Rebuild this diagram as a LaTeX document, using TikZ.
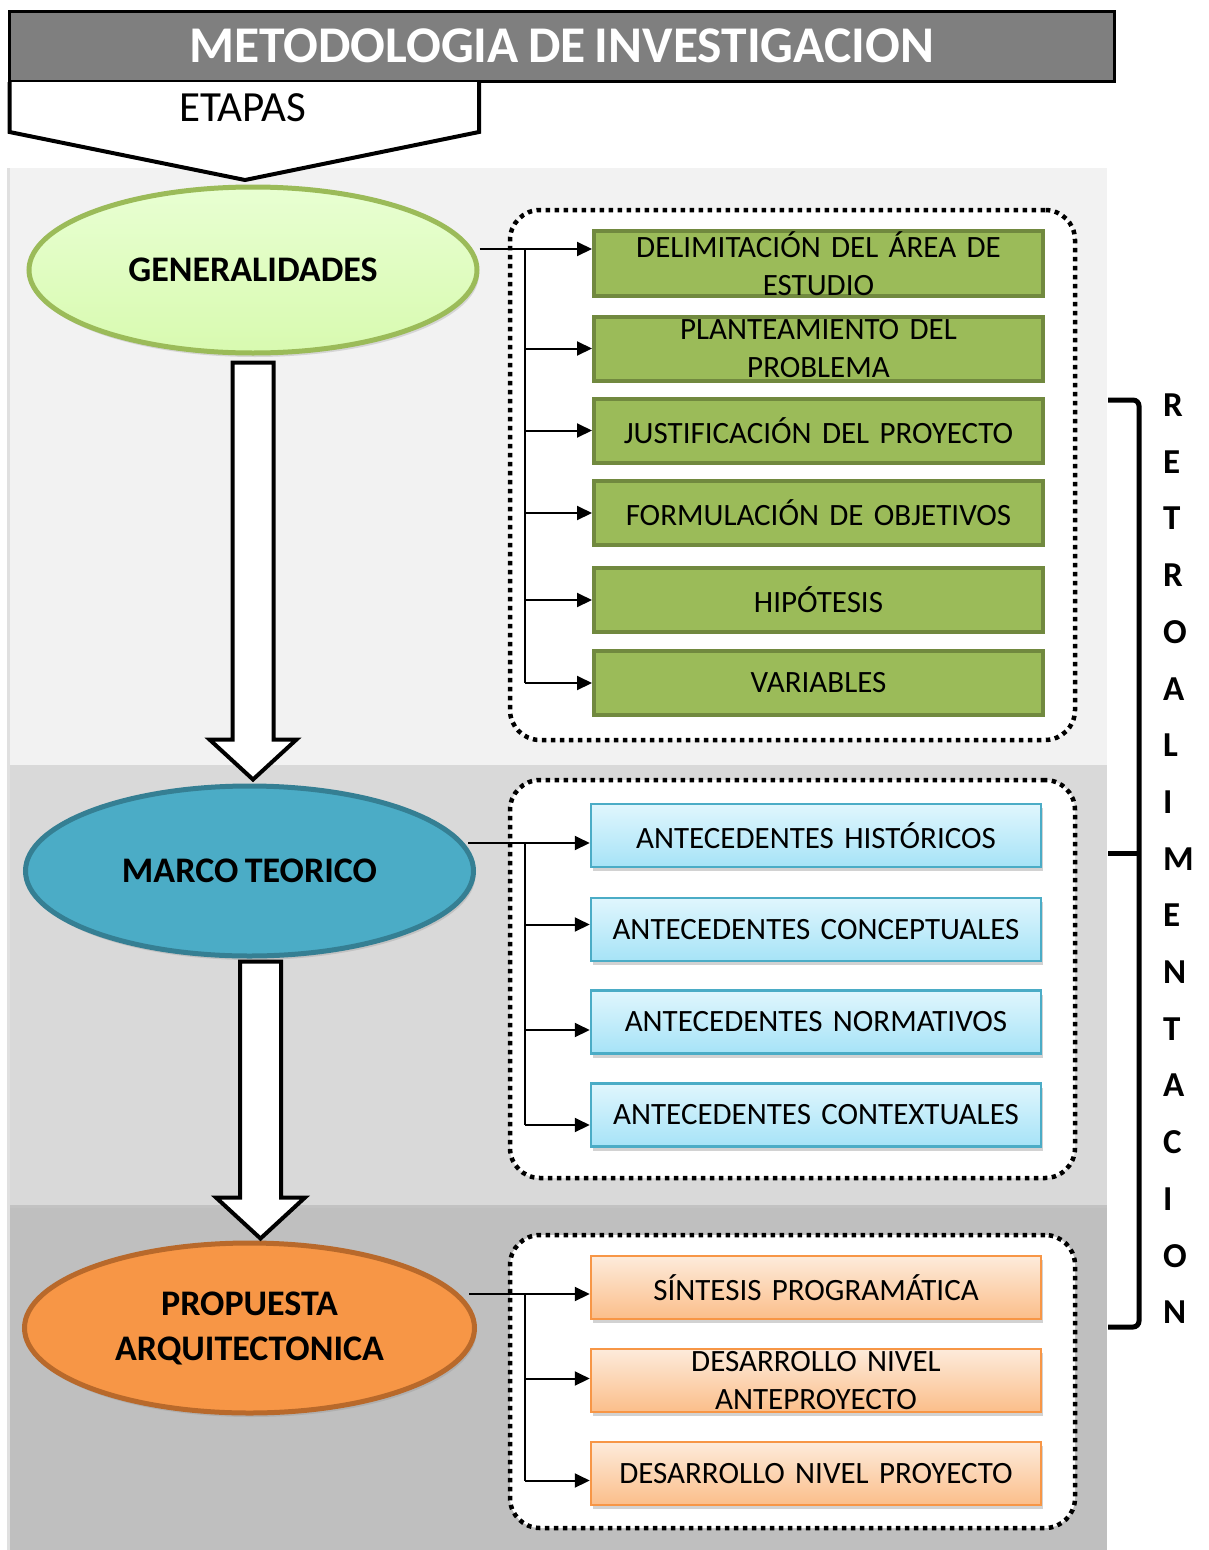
\documentclass[tikz,border=0pt]{standalone}
\usepackage{fontspec}
\setmainfont{Carlito}[WordSpace=0.8]
\usetikzlibrary{arrows.meta,shapes.geometric,shadows,calc}
\definecolor{panelA}{HTML}{F2F2F2}
\definecolor{panelB}{HTML}{D9D9D9}
\definecolor{panelC}{HTML}{BFBFBF}
\definecolor{titlegrey}{HTML}{7F7F7F}
\definecolor{olive}{HTML}{9BBB59}
\definecolor{oliveD}{HTML}{71893F}
\definecolor{paleA}{HTML}{E8FFD2}
\definecolor{paleB}{HTML}{D8FAB0}
\definecolor{teal}{HTML}{4BACC6}
\definecolor{tealD}{HTML}{357F93}
\definecolor{orng}{HTML}{F79646}
\definecolor{orngD}{HTML}{B8692B}
\definecolor{cyanA}{HTML}{E0F6FD}
\definecolor{cyanB}{HTML}{A6E3F7}
\definecolor{peachA}{HTML}{FDEBDB}
\definecolor{peachB}{HTML}{FBBE8A}
\begin{document}
\begin{tikzpicture}[x=1pt,y=-1pt,
  boxtxt/.style={font=\fontsize{31}{38}\selectfont, align=center, text width=446pt, inner sep=0pt},
  gbox/.style={boxtxt, draw=oliveD, line width=4pt, fill=olive, minimum width=449pt, minimum height=64pt},
  bbox/.style={boxtxt, draw=teal, line width=2.5pt, top color=cyanA, bottom color=cyanB, minimum width=450pt, minimum height=63pt,
     drop shadow={opacity=0.35, shadow xshift=2pt, shadow yshift=-4pt}},
  obox/.style={boxtxt, draw=orng, line width=2.5pt, top color=peachA, bottom color=peachB, minimum width=450pt, minimum height=63pt,
     drop shadow={opacity=0.35, shadow xshift=2pt, shadow yshift=-4pt}},
  stage/.style={ellipse, line width=5pt, inner sep=0pt, align=center, font=\fontsize{36}{45}\selectfont\bfseries,
     drop shadow={opacity=0.25, shadow xshift=2pt, shadow yshift=-4pt}},
  dotbox/.style={draw=black, fill=white, line width=4.5pt, dash pattern=on 4.5pt off 4.5pt, rounded corners=30pt},
  conn/.style={draw=black, line width=2pt},
  arr/.style={conn, -{Triangle[length=15pt,width=14pt]}},
  blockarr/.style={draw=black, fill=white, line width=4pt, line join=miter},
  retro/.style={font=\fontsize{35}{35}\selectfont\bfseries, anchor=base west, inner sep=0pt}
]
\useasboundingbox (0,0) rectangle (1209,1550);
\fill[white] (0,0) rectangle (1209,1550);
% panels
\fill[black!12] (7,168) rectangle (1107,1550);
\fill[panelA] (10,168) rectangle (1107,765);
\fill[panelB] (10,765) rectangle (1107,1205);
\fill[black!35, opacity=0.5] (10,1205) rectangle (1107,1209);
\fill[panelC] (10,1208) rectangle (1107,1550);

% title
\node[draw=black, line width=3pt, fill=titlegrey, minimum width=1105pt, minimum height=70pt, inner sep=0pt,
      text=white, font=\fontsize{51.5}{52}\selectfont\bfseries] (title) at (561.5,46) {METODOLOGIA DE INVESTIGACION};
% etapas pentagon
\fill[white] (9.5,82) -- (479,82) -- (479,132) -- (245,180) -- (9.5,132) -- cycle;
\draw[line width=4pt, line join=miter] (9.5,82) -- (9.5,132) -- (245,180) -- (479,132) -- (479,82);
\node[font=\fontsize{43}{43}\selectfont, inner sep=0pt] (etapas) at (243,108) {ETAPAS};

% group containers
\node[dotbox, minimum width=565pt, minimum height=530pt] (grp1) at (792.5,475) {};
\node[dotbox, minimum width=565pt, minimum height=398pt] (grp2) at (792.5,979) {};
\node[dotbox, minimum width=565pt, minimum height=293pt] (grp3) at (792.5,1381.5) {};

% stages
\node[stage, draw=olive, top color=paleA, bottom color=paleB, minimum width=448pt, minimum height=166pt] (gen) at (253,270) {GENERALIDADES};
\node[stage, draw=tealD, fill=teal, minimum width=448pt, minimum height=170pt] (marco) at (249.5,871) {MARCO TEORICO};
\node[stage, draw=orngD, fill=orng, minimum width=450pt, minimum height=170pt] (prop) at (249.5,1328) {PROPUESTA\\ARQUITECTONICA};

% green boxes
\node[gbox] (g1) at (818.5,263.5) {DELIMITACIÓN DEL ÁREA DE\\ESTUDIO};
\node[gbox] (g2) at (818.5,348.5) {PLANTEAMIENTO DEL\\PROBLEMA};
\node[gbox] (g3) at (818.5,430.5) {JUSTIFICACIÓN DEL PROYECTO};
\node[gbox] (g4) at (818.5,513) {FORMULACIÓN DE OBJETIVOS};
\node[gbox] (g5) at (818.5,600) {HIPÓTESIS};
\node[gbox] (g6) at (818.5,683) {VARIABLES};

% blue boxes
\node[bbox] (b1) at (816,835.5) {ANTECEDENTES HISTÓRICOS};
\node[bbox] (b2) at (816,929.5) {ANTECEDENTES CONCEPTUALES};
\node[bbox] (b3) at (816,1022) {ANTECEDENTES NORMATIVOS};
\node[bbox] (b4) at (816,1115) {ANTECEDENTES CONTEXTUALES};

% orange boxes
\node[obox] (o1) at (816,1287.5) {SÍNTESIS PROGRAMÁTICA};
\node[obox] (o2) at (816,1380.5) {DESARROLLO NIVEL\\ANTEPROYECTO};
\node[obox] (o3) at (816,1473.5) {DESARROLLO NIVEL PROYECTO};

% connectors group 1
\coordinate (s1) at ([yshift=21pt]gen.east);
\coordinate (t1) at (525,0);
\draw[arr] (s1) -- (s1 -| g1.west);
\draw[conn] (s1 -| t1) -- (g6.west -| t1);
\draw[arr] (g2.west -| t1) -- (g2.west);
\draw[arr] (g3.west -| t1) -- (g3.west);
\draw[arr] (g4.west -| t1) -- (g4.west);
\draw[arr] (g5.west -| t1) -- (g5.west);
\draw[arr] (g6.west -| t1) -- (g6.west);

% connectors group 2
\coordinate (s2) at ([xshift=-8pt,yshift=28pt]marco.east);
\draw[arr] (s2) -- (s2 -| b1.west);
\draw[conn] (s2 -| t1) -- ([yshift=-10pt]b4.west -| t1);
\draw[arr] ([yshift=5pt]b2.west -| t1) -- ([yshift=5pt]b2.west);
\draw[arr] ([yshift=-8pt]b3.west -| t1) -- ([yshift=-8pt]b3.west);
\draw[arr] ([yshift=-10pt]b4.west -| t1) -- ([yshift=-10pt]b4.west);

% connectors group 3
\coordinate (s3) at ([xshift=-8pt,yshift=34pt]prop.east);
\draw[arr] (s3) -- (s3 -| o1.west);
\draw[conn] (s3 -| t1) -- ([yshift=-7pt]o3.west -| t1);
\draw[arr] ([yshift=2pt]o2.west -| t1) -- ([yshift=2pt]o2.west);
\draw[arr] ([yshift=-7pt]o3.west -| t1) -- ([yshift=-7pt]o3.west);

% block arrows between stages
\coordinate (a1s) at ([yshift=-7pt]gen.south);
\coordinate (a1t) at ([yshift=4pt]a1s |- marco.north);
\draw[blockarr] ($(a1s)+(-20.5,0)$) -- ($(a1s)+(20.5,0)$) -- ($(a1t)+(20.5,-40)$) -- ($(a1t)+(43.5,-40)$)
  -- (a1t) -- ($(a1t)+(-43.5,-40)$) -- ($(a1t)+(-20.5,-40)$) -- cycle;
\coordinate (a2s) at ([xshift=11pt,yshift=-3pt]marco.south);
\coordinate (a2t) at ([yshift=2pt]a2s |- prop.north);
\draw[blockarr] ($(a2s)+(-20.5,0)$) -- ($(a2s)+(20.5,0)$) -- ($(a2t)+(20.5,-41)$) -- ($(a2t)+(44.5,-41)$)
  -- (a2t) -- ($(a2t)+(-44.5,-41)$) -- ($(a2t)+(-20.5,-41)$) -- cycle;

% bracket
\coordinate (brt) at (1108,400);
\coordinate (brm) at (1108,853);
\coordinate (brb) at (1108,1327);
\draw[line width=5pt, rounded corners=6pt] (brt) -- ++(31,0) |- (brb);
\draw[line width=5pt] (brm) -- ++(31,0);

% RETROALIMENTACION
\foreach \l [count=\i from 0] in {R,E,T,R,O,A,L,I,M,E,N,T,A,C,I,O,N}
  \node[retro] (r\i) at (1163,{416.5+56.7*\i}) {\l};
\end{tikzpicture}
\end{document}
